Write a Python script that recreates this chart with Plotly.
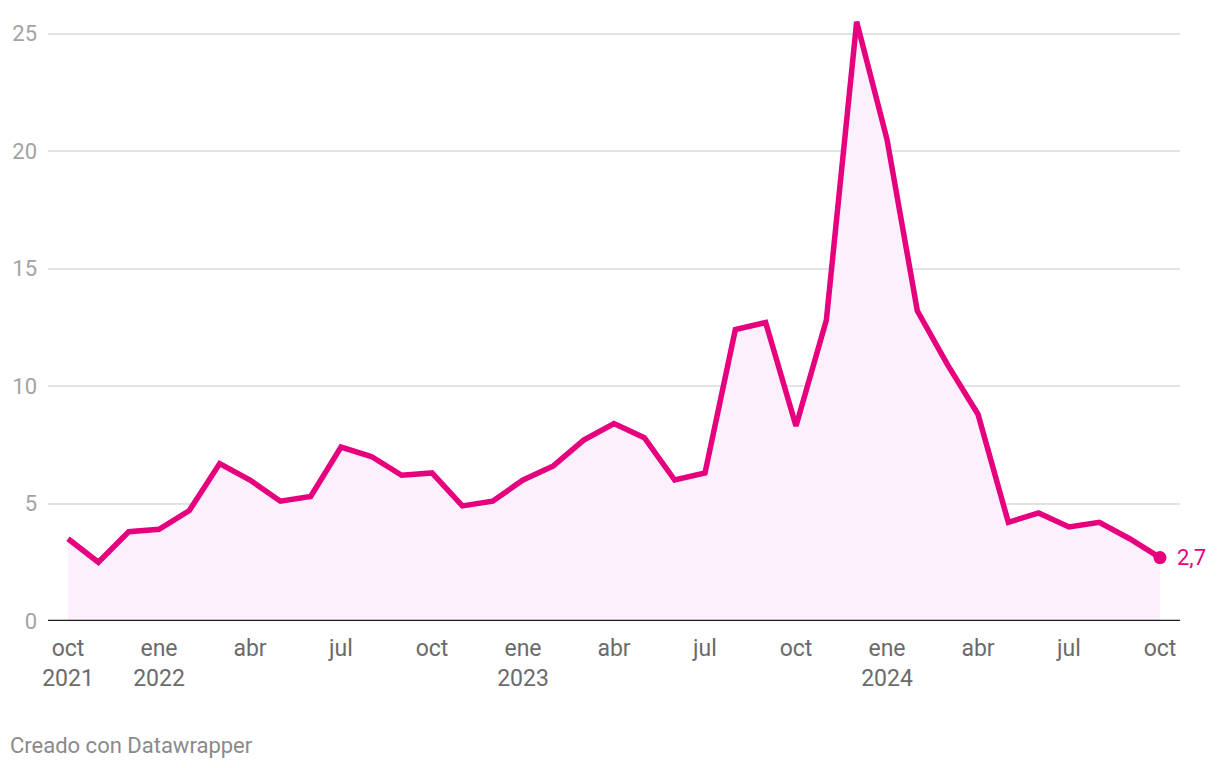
import plotly.graph_objects as go

months = ["oct 2021", "nov 2021", "dic 2021", "ene 2022", "feb 2022", "mar 2022", "abr 2022", "may 2022",
          "jun 2022", "jul 2022", "ago 2022", "sep 2022", "oct 2022", "nov 2022", "dic 2022",
          "ene 2023", "feb 2023", "mar 2023", "abr 2023", "may 2023", "jun 2023", "jul 2023",
          "ago 2023", "sep 2023", "oct 2023", "nov 2023", "dic 2023", "ene 2024", "feb 2024",
          "mar 2024", "abr 2024", "may 2024", "jun 2024", "jul 2024", "ago 2024", "sep 2024", "oct 2024"]
values = [3.5, 2.5, 3.8, 3.9, 4.7, 6.7, 6.0, 5.1, 5.3, 7.4, 7.0, 6.2, 6.3, 4.9, 5.1,
          6.0, 6.6, 7.7, 8.4, 7.8, 6.0, 6.3, 12.4, 12.7, 8.3, 12.8, 25.5, 20.5, 13.2,
          10.9, 8.8, 4.2, 4.6, 4.0, 4.2, 3.5, 2.7]
tick_idx = [0, 3, 6, 9, 12, 15, 18, 21, 24, 27, 30, 33, 36]
tick_labels = ["oct<br>2021", "ene<br>2022", "abr", "jul", "oct", "ene<br>2023", "abr", "jul",
               "oct", "ene<br>2024", "abr", "jul", "oct"]
y_ticks = [0, 5, 10, 15, 20, 25]

x = list(range(len(values)))
pink = "#e6007e"

fig = go.Figure()
fig.add_trace(go.Scatter(x=x, y=values, mode="lines", fill="tozeroy",
                         fillcolor="#fcf0fc", line=dict(color="rgba(0,0,0,0)", width=0),
                         hoverinfo="skip", showlegend=False))
fig.add_trace(go.Scatter(x=x, y=values, mode="lines", line=dict(color=pink, width=5.5),
                         showlegend=False, customdata=months,
                         hovertemplate="%{customdata}: %{y}<extra></extra>"))
fig.add_trace(go.Scatter(x=[x[-1]], y=[values[-1]], mode="markers",
                         marker=dict(color=pink, size=13), cliponaxis=False,
                         showlegend=False, hoverinfo="skip"))

fig.update_layout(
    width=1220, height=768,
    margin=dict(l=48, r=40, t=10, b=147),
    paper_bgcolor="white", plot_bgcolor="white",
    font=dict(family="Roboto", size=22, color="#666666"),
    xaxis=dict(range=[-0.66, 36.66], tickvals=tick_idx, ticktext=tick_labels,
               showgrid=False, zeroline=False, showline=False, ticks="",
               tickfont=dict(color="#6b6b6b", size=23), ticklabelstandoff=11,
               fixedrange=True),
    yaxis=dict(range=[0, 26], tickvals=y_ticks, showgrid=True, gridcolor="#e3e3e3",
               gridwidth=1.5, zeroline=False, showline=False, ticks="",
               tickfont=dict(color="#a3a3a3", size=22), ticklabelstandoff=10,
               fixedrange=True),
    shapes=[dict(type="line", xref="paper", yref="y", x0=0, x1=1, y0=0, y1=0,
                 line=dict(color="#1a1a1a", width=2.5))],
    annotations=[
        dict(text=f"{values[-1]:.1f}".replace(".", ","), x=x[-1], y=values[-1],
             xref="x", yref="y", xanchor="left", yanchor="middle", xshift=15,
             showarrow=False, font=dict(size=22, color=pink, family="Roboto")),
        dict(text="Creado con Datawrapper", xref="paper", yref="paper",
             x=-40/1132, y=-(745-621)/611, xanchor="left", yanchor="middle",
             showarrow=False, font=dict(size=22, color="#8a8a8a", family="Roboto")),
    ],
)

fig.write_html("out.html")
